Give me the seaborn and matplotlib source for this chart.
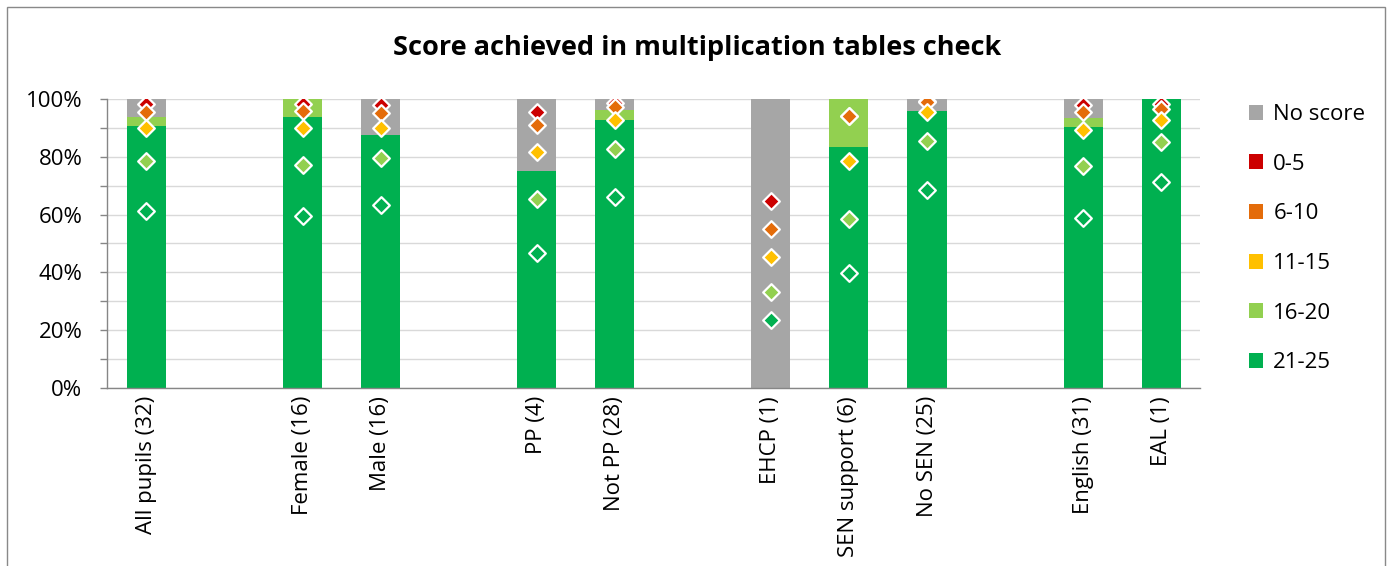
import matplotlib
matplotlib.use("Agg")
import matplotlib.pyplot as plt
from matplotlib.patches import Patch, Rectangle
import numpy as np
import pandas as pd
import seaborn as sns

# category slots, blanks keep the gaps between groups
slots = ["All pupils (32)", " ", "Female (16)", "Male (16)", "  ", "PP (4)",
         "Not PP (28)", "   ", "EHCP (1)", "SEN support (6)", "No SEN (25)",
         "    ", "English (31)", "EAL (1)"]
groups = ["All pupils (32)", "Female (16)", "Male (16)", "PP (4)", "Not PP (28)",
          "EHCP (1)", "SEN support (6)", "No SEN (25)", "English (31)", "EAL (1)"]
pupils = [32, 16, 16, 4, 28, 1, 6, 25, 31, 1]

# pupil counts in each score band
n_21_25 = [29, 15, 14, 3, 26, 0, 5, 24, 28, 1]
n_16_20 = [1, 1, 0, 0, 1, 0, 1, 0, 1, 0]
n_11_15 = [0, 0, 0, 0, 0, 0, 0, 0, 0, 0]
n_6_10 = [0, 0, 0, 0, 0, 0, 0, 0, 0, 0]
n_0_5 = [0, 0, 0, 0, 0, 0, 0, 0, 0, 0]
n_none = [2, 0, 2, 1, 1, 1, 0, 1, 2, 0]

# comparison markers, cumulative %
cmp_21_25 = [61.4, 59.5, 63.3, 46.8, 66.1, 23.6, 39.7, 68.5, 58.7, 71.2]
cmp_16_20 = [78.6, 77.2, 79.8, 65.5, 82.8, 33.2, 58.4, 85.6, 76.8, 85.1]
cmp_11_15 = [89.9, 90.2, 90.2, 81.6, 92.7, 45.2, 78.5, 95.5, 89.4, 92.9]
cmp_6_10 = [95.6, 96.0, 95.4, 91.2, 97.4, 54.9, 94.1, 99.2, 95.5, 96.5]
cmp_0_5 = [98.2, 98.4, 98.0, 95.6, 98.6, 64.6, 94.3, 99.5, 98.0, 98.2]

bands = ["No score", "0-5", "6-10", "11-15", "16-20", "21-25"]
colors = {"No score": "#a6a6a6", "0-5": "#cc0000", "6-10": "#e46c0a",
          "11-15": "#ffc000", "16-20": "#92d050", "21-25": "#00b050"}


def main():
    sns.set_theme(style="white")
    plt.rcParams["font.family"] = ["Open Sans", "DejaVu Sans"]
    plt.rcParams["text.color"] = "black"
    plt.rcParams["xtick.labelcolor"] = "black"
    plt.rcParams["ytick.labelcolor"] = "black"

    df = pd.DataFrame({"group": groups, "pupils": pupils,
                       "21-25": n_21_25, "16-20": n_16_20, "11-15": n_11_15,
                       "6-10": n_6_10, "0-5": n_0_5, "No score": n_none})
    # cumulative share, best band at the bottom
    stack = ["21-25", "16-20", "11-15", "6-10", "0-5", "No score"]
    cum = df[stack].cumsum(axis=1).div(df["pupils"], axis=0)

    fig = plt.figure(figsize=(13.92, 5.66), dpi=100)
    ax = fig.add_axes([0.0772, 0.315, 0.785, 0.5096])

    for band in stack[::-1]:
        sns.barplot(x=df["group"], y=cum[band], order=slots, color=colors[band],
                    saturation=1, width=0.5, errorbar=None, linewidth=0,
                    ax=ax, zorder=2)

    markers = [("0-5", cmp_0_5), ("6-10", cmp_6_10), ("11-15", cmp_11_15),
               ("16-20", cmp_16_20), ("21-25", cmp_21_25)]
    for band, vals in markers:
        sns.stripplot(x=groups, y=np.array(vals) / 100, order=slots, jitter=False,
                      marker="D", color=colors[band], edgecolor="white",
                      linewidth=1.6, size=8.5, ax=ax, zorder=4, legend=False)

    ax.set_xlim(-0.5, len(slots) - 0.5)
    ax.set_ylim(0, 1)
    ax.set_xlabel("")
    ax.set_ylabel("")
    ax.set_xticks(range(len(slots)))
    ax.set_xticklabels(slots, rotation=90, fontsize=16, va="top")
    ax.set_xticks(np.arange(-0.5, len(slots), 1), minor=True)
    ax.tick_params(axis="x", which="major", length=0, pad=6)
    ax.tick_params(axis="x", which="minor", length=5, color="#868686", width=1)
    ax.set_yticks(np.arange(0, 1.01, 0.2))
    ax.set_yticklabels([f"{int(v)}%" for v in range(0, 101, 20)], fontsize=16)
    ax.set_yticks(np.arange(0.1, 1.0, 0.2), minor=True)
    ax.tick_params(axis="y", which="both", length=5, color="#868686", width=1,
                   left=True, pad=13)
    ax.grid(axis="y", which="both", color="#d9d9d9", linewidth=1, zorder=0)
    ax.set_axisbelow(True)
    sns.despine(ax=ax)
    for side in ["left", "bottom"]:
        ax.spines[side].set_color("#868686")
        ax.spines[side].set_linewidth(1)

    handles = [Patch(facecolor=colors[b], edgecolor="none", label=b) for b in bands]
    fig.legend(handles=handles, loc="upper left",
               bbox_to_anchor=(1240 / 1392, 1 - 95 / 566), frameon=False,
               fontsize=16, handlelength=0.65, handleheight=0.65,
               handletextpad=0.45, labelspacing=1.29, borderaxespad=0)

    fig.text(0.5007, 1 - 48 / 566, "Score achieved in multiplication tables check",
             ha="center", va="center", fontsize=19.5, fontweight="bold")

    fig.patches.append(Rectangle((7 / 1392, -0.05), (1385 - 7) / 1392, 1.05 - 7 / 566,
                                 transform=fig.transFigure, fill=False,
                                 edgecolor="#898989", linewidth=1))

    fig.savefig("out.png", dpi=100)


if __name__ == "__main__":
    main()
